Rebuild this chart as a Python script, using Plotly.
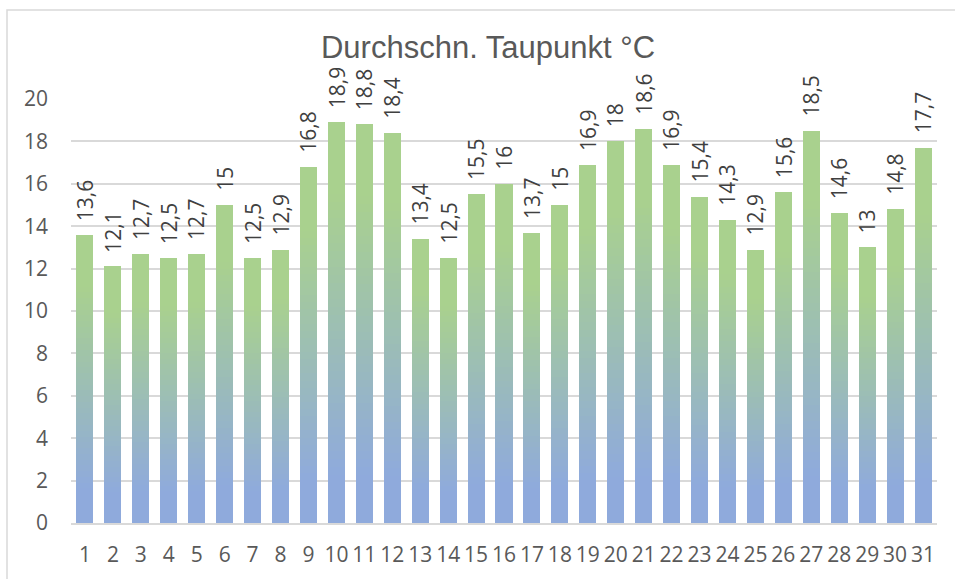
import plotly.graph_objects as go
import numpy as np

days = list(range(1, 32))
tick_labels = [str(d) for d in days]
taupunkt = [13.6, 12.1, 12.7, 12.5, 12.7, 15, 12.5, 12.9, 16.8, 18.9, 18.8, 18.4,
            13.4, 12.5, 15.5, 16, 13.7, 15, 16.9, 18, 18.6, 16.9, 15.4, 14.3,
            12.9, 15.6, 18.5, 14.6, 13, 14.8, 17.7]
y_ticks = list(range(0, 21, 2))
title_text = "Durchschn. Taupunkt °C"

W, H = 955, 579
ML, MR, MT, MB = 71, 18, 99, 56

blue = np.array([0x8F, 0xAA, 0xDC])
green = np.array([0xA9, 0xD1, 0x8E])

vals = np.array(taupunkt, dtype=float)
N = 50
fig = go.Figure()
for k in range(N):
    f = (k + 0.5) / N
    t = np.clip((f - 0.12) / (0.82 - 0.12), 0, 1)
    c = blue + (green - blue) * t
    col = "rgb(%d,%d,%d)" % tuple(np.round(c))
    seg = vals / N
    h = seg * (1.6 if k < N - 1 else 1.0)
    fig.add_trace(go.Bar(
        x=days, y=h, base=vals * k / N,
        marker=dict(color=col, line=dict(width=0)),
        width=0.61, hoverinfo="skip", showlegend=False,
    ))

def fmt(v):
    return ("%g" % v).replace(".", ",")

for d, v in zip(days, taupunkt):
    fig.add_annotation(
        x=d, y=v, text=fmt(v), textangle=-90, showarrow=False,
        xanchor="center", yanchor="bottom", yshift=12,
        font=dict(family="Open Sans", size=21, color="#404040"),
    )

pw = W - ML - MR
ph = H - MT - MB
fig.add_shape(
    type="rect", xref="paper", yref="paper",
    x0=(7 - ML) / pw, x1=(965 - ML) / pw,
    y0=(H - 590 - MB) / ph, y1=(H - 10 - MB) / ph,
    line=dict(color="#d9d9d9", width=1.5), fillcolor="rgba(0,0,0,0)", layer="below",
)

fig.update_layout(
    width=W, height=H,
    margin=dict(l=ML, r=MR, t=MT, b=MB, autoexpand=False),
    barmode="overlay", bargap=0,
    paper_bgcolor="white", plot_bgcolor="white",
    title=dict(text=title_text, x=0.511, xanchor="center", y=1 - 47 / H, yanchor="middle",
               font=dict(family="Liberation Sans", size=31, color="#595959")),
    xaxis=dict(tickmode="array", tickvals=days, ticktext=tick_labels, range=[0.5, 31.5],
               showgrid=False, zeroline=False, showline=True, linecolor="#d9d9d9", linewidth=1.5,
               ticks="", ticklabelstandoff=12,
               tickfont=dict(family="Open Sans", size=21, color="#595959")),
    yaxis=dict(range=[0, 20], tickvals=y_ticks, showgrid=True, gridcolor="#d9d9d9", gridwidth=1.5,
               zeroline=False, showline=False, ticks="", ticklabelstandoff=22,
               tickfont=dict(family="Open Sans", size=21, color="#595959")),
    font=dict(family="Open Sans"),
)

fig.write_html("out.html", config={"displayModeBar": False})
with open("out.html", "r", encoding="utf-8") as fh:
    html = fh.read()
html = html.replace("<head>", "<head><style>html,body{margin:0;padding:0;overflow:hidden;}</style>", 1)
with open("out.html", "w", encoding="utf-8") as fh:
    fh.write(html)
